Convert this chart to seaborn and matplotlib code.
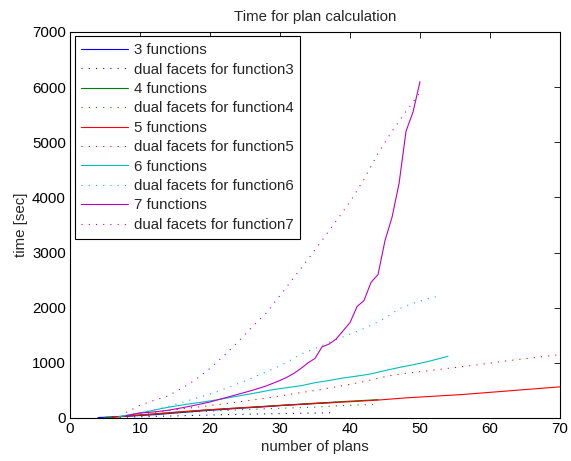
import matplotlib
matplotlib.use("Agg")
import matplotlib.pyplot as plt
import seaborn as sns
import pandas as pd

# ---- data ----
x3 = [4, 6, 8, 10, 12, 14, 16, 18, 20, 22, 24, 26, 28, 30, 32, 34, 36, 38]
y3 = [8, 18, 30, 45, 60, 80, 100, 120, 140, 155, 175, 190, 205, 225, 240, 255, 270, 285]
d3 = [4, 10, 16, 22, 28, 35, 41, 48, 54, 60, 65, 70, 75, 80, 84, 88, 92, 96]

x4 = [5, 7, 9, 11, 13, 15, 17, 19, 21, 23, 25, 27, 29, 31, 33, 35, 37, 39, 41, 43, 44]
y4 = [10, 25, 45, 62, 80, 100, 118, 140, 158, 175, 190, 205, 222, 238, 252, 268, 282, 298, 312, 325, 332]
d4 = [8, 18, 30, 45, 65, 90, 105, 118, 130, 142, 152, 162, 172, 180, 188, 196, 212, 225, 235, 245, 250]

x5 = [6, 8, 10, 12, 14, 16, 18, 20, 22, 24, 26, 28, 30, 32, 34, 36, 38, 40, 42, 44,
      46, 48, 50, 52, 54, 56, 58, 60, 62, 64, 66, 68, 70]
y5 = [15, 35, 55, 75, 95, 115, 135, 150, 165, 180, 195, 210, 225, 240, 255, 268, 282, 295, 310, 325,
      345, 365, 380, 395, 410, 425, 445, 465, 485, 505, 525, 545, 565]
d5 = [15, 40, 70, 100, 130, 165, 195, 225, 255, 290, 325, 360, 400, 440, 480, 520, 565, 610, 660, 720,
      775, 810, 840, 870, 900, 930, 960, 995, 1030, 1060, 1090, 1120, 1150]

x6 = [7, 9, 11, 13, 15, 17, 19, 21, 23, 25, 27, 29, 31, 33, 35, 37, 39, 41, 43, 45, 47, 49, 51, 53, 54]
y6 = [25, 70, 115, 170, 215, 255, 290, 330, 375, 420, 465, 515, 550, 585, 640, 680, 725, 760, 800,
      860, 915, 965, 1020, 1085, 1120]
x6d = [7, 9, 11, 13, 15, 17, 19, 21, 23, 25, 27, 29, 31, 33, 35, 37, 39, 41, 43, 45, 47, 49, 51, 53]
d6 = [20, 70, 120, 175, 245, 320, 395, 475, 575, 670, 780, 890, 1010, 1160, 1260, 1370, 1470, 1570,
      1680, 1810, 1980, 2080, 2160, 2220]

x7 = [8, 10, 12, 14, 16, 18, 20, 22, 24, 26, 28, 30, 31, 32, 33, 34, 35, 36, 37, 38, 39, 40,
      41, 42, 43, 44, 45, 46, 47, 48, 49, 50]
y7 = [40, 90, 110, 140, 185, 235, 290, 360, 430, 500, 580, 680, 740, 810, 900, 1000, 1080, 1290,
      1340, 1430, 1580, 1730, 2020, 2130, 2460, 2600, 3220, 3640, 4250, 5200, 5550, 6100]
x7d = [8, 10, 12, 14, 16, 18, 20, 22, 24, 26, 28, 30, 32, 34, 36, 38, 40, 42, 44, 46, 48, 50]
d7 = [100, 230, 320, 400, 540, 700, 900, 1130, 1380, 1650, 1900, 2220, 2550, 2880, 3220, 3570,
      3920, 4330, 4800, 5200, 5560, 5900]

labels = ["3 functions", "dual facets for function3",
          "4 functions", "dual facets for function4",
          "5 functions", "dual facets for function5",
          "6 functions", "dual facets for function6",
          "7 functions", "dual facets for function7"]

xticks = [0, 10, 20, 30, 40, 50, 60, 70]
yticks = [0, 1000, 2000, 3000, 4000, 5000, 6000, 7000]

# ---- style ----
sns.set_style("white")
plt.rcParams['font.family'] = ['Liberation Sans', 'DejaVu Sans']
plt.rcParams['xtick.direction'] = 'in'
plt.rcParams['ytick.direction'] = 'in'

FS = 10.8
fig = plt.figure(figsize=(5.71, 4.61), dpi=100)
ax = fig.add_axes([0.1226, 0.0933, 0.8582, 0.8373])

colors = ["#0000ff", "#008000", "#ff0000", "#00bfbf", "#bf00bf"]
series = [(x3, y3, x3, d3), (x4, y4, x4, d4), (x5, y5, x5, d5), (x6, y6, x6d, d6), (x7, y7, x7d, d7)]
dotted = (0, (1, 5.5))

for i, (xs, ys, xd, yd) in enumerate(series):
    sns.lineplot(x=xs, y=ys, color=colors[i], linestyle='-', linewidth=0.8,
                 legend=False, ax=ax, estimator=None, sort=False)
    sns.lineplot(x=xd, y=yd, color=colors[i], linestyle=dotted, linewidth=0.8,
                 legend=False, ax=ax, estimator=None, sort=False)

ax.set_xlim(0, 70)
ax.set_ylim(0, 7000)
ax.set_xticks(xticks)
ax.set_yticks(yticks)
ax.tick_params(axis='both', which='both', direction='in', top=True, right=True,
               length=4.5, width=0.6, labelsize=FS, colors='black', pad=3)
for s in ax.spines.values():
    s.set_color('black')
    s.set_linewidth(0.8)

ax.set_title("Time for plan calculation", fontsize=FS, pad=8)
ax.set_xlabel("number of plans", fontsize=FS, labelpad=3)
ax.set_ylabel("time [sec]", fontsize=FS, labelpad=3)

handles = list(ax.lines)
leg = ax.legend(handles, labels, loc='upper left', fontsize=FS, frameon=True, fancybox=False,
                shadow=False, framealpha=1, edgecolor='black', borderaxespad=0.3,
                handlelength=3.1, labelspacing=0.36, borderpad=0.45, handletextpad=0.4)
leg.get_frame().set_linewidth(0.8)

fig.savefig("out.png", dpi=100)
